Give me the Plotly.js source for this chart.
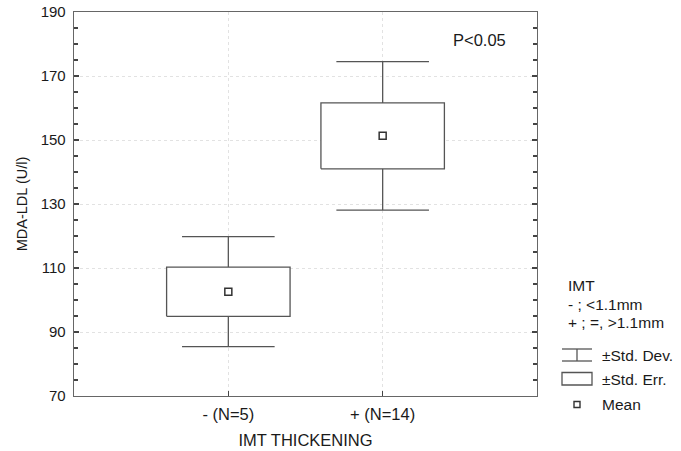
<!DOCTYPE html>
<html>
<head>
<meta charset="utf-8">
<script src="https://cdn.plot.ly/plotly-3.0.1.min.js"></script>
<style>html,body{margin:0;padding:0;background:#fff;}#chart{width:681px;height:451px;}</style>
</head>
<body>
<div id="chart"></div>
<script>
// ---- data ----
const categories = ['- (N=5)', '+ (N=14)'];
const means = [102.6, 151.3];
const stdErr = [7.7, 10.3];
const stdDev = [17.2, 23.2];
const yTickStart = 70, yTickStep = 20, yMinorStep = 5;
const legendNote = ['IMT', '- ; <1.1mm', '+ ; =, >1.1mm'];
const legendLabels = ['\u00B1Std. Dev.', '\u00B1Std. Err.', 'Mean'];
const pLabel = 'P<0.05';

// ---- style ----
const FONT = 'Liberation Sans, Arial, sans-serif';
const LINE = '#555';
const TXT = '#1a1a1a';
const BOX_HALF = 0.4, CAP_HALF = 0.3;
const W = 681, H = 451;
const M = {l: 74, r: 144, t: 12, b: 55};
const px = x => (x - M.l) / (W - M.l - M.r);
const py = y => (H - M.b - y) / (H - M.t - M.b);

const xs = categories.map((c, i) => i);

const wx = [], wy = [];
xs.forEach((x, i) => {
  const m = means[i], e = stdErr[i], s = stdDev[i];
  wx.push(x, x, null, x, x, null, x - CAP_HALF, x + CAP_HALF, null, x - CAP_HALF, x + CAP_HALF, null);
  wy.push(m + e, m + s, null, m - e, m - s, null, m + s, m + s, null, m - s, m - s, null);
});
const traces = [{
  type: 'scatter', mode: 'lines', x: wx, y: wy,
  line: {color: LINE, width: 1.3}, hoverinfo: 'skip', showlegend: false
}];
xs.forEach((x, i) => {
  const m = means[i], e = stdErr[i];
  traces.push({
    type: 'scatter', mode: 'lines',
    x: [x - BOX_HALF, x + BOX_HALF, x + BOX_HALF, x - BOX_HALF, x - BOX_HALF],
    y: [m - e, m - e, m + e, m + e, m - e],
    fill: 'toself', fillcolor: '#fff',
    line: {color: LINE, width: 1.3}, hoverinfo: 'skip', showlegend: false
  });
});
traces.push({
  type: 'scatter', mode: 'markers', x: xs, y: means,
  marker: {symbol: 'square-open', size: 7, color: '#333', line: {width: 1.5}},
  showlegend: false
});

const shapes = [
  {type: 'line', xref: 'paper', yref: 'paper', x0: px(562), x1: px(592), y0: py(349), y1: py(349), line: {color: LINE, width: 1.3}},
  {type: 'line', xref: 'paper', yref: 'paper', x0: px(562), x1: px(592), y0: py(361), y1: py(361), line: {color: LINE, width: 1.3}},
  {type: 'line', xref: 'paper', yref: 'paper', x0: px(577), x1: px(577), y0: py(349), y1: py(361), line: {color: LINE, width: 1.3}},
  {type: 'rect', xref: 'paper', yref: 'paper', x0: px(562), x1: px(592), y0: py(372.5), y1: py(385), line: {color: LINE, width: 1.3}},
  {type: 'rect', xref: 'paper', yref: 'paper', x0: px(574), x1: px(580), y0: py(401.5), y1: py(407.5), line: {color: '#333', width: 1.4}}
];
const annotations = [
  {text: pLabel, xref: 'paper', yref: 'paper', x: px(479), y: py(40), showarrow: false, xanchor: 'center', yanchor: 'middle', font: {family: FONT, size: 16.5, color: TXT}}
];
const noteY = [285, 304, 322];
legendNote.forEach((t, i) => annotations.push({
  text: t, xref: 'paper', yref: 'paper', x: px(566), y: py(noteY[i]), showarrow: false,
  xanchor: 'left', yanchor: 'middle', font: {family: FONT, size: 15.5, color: TXT}
}));
const labY = [355, 379, 404];
legendLabels.forEach((t, i) => annotations.push({
  text: t, xref: 'paper', yref: 'paper', x: px(600), y: py(labY[i]), showarrow: false,
  xanchor: 'left', yanchor: 'middle', font: {family: FONT, size: 15.5, color: TXT}
}));

const layout = {
  width: W, height: H, margin: M,
  paper_bgcolor: '#fff', plot_bgcolor: '#fff',
  font: {family: FONT, color: TXT},
  showlegend: false,
  xaxis: {
    range: [-1, 2], tickmode: 'array', tickvals: xs, ticktext: categories,
    showline: true, linecolor: '#666', linewidth: 1.3, mirror: true,
    ticks: 'inside', ticklen: 5, tickcolor: '#444', tickwidth: 1.2,
    showgrid: true, gridcolor: '#e2e2e2', griddash: 'dot', gridwidth: 1,
    zeroline: false, tickfont: {family: FONT, size: 16.5, color: TXT},
    ticklabelstandoff: 3,
    title: {text: 'IMT THICKENING', font: {family: FONT, size: 16.5, color: TXT}, standoff: 12}
  },
  yaxis: {
    range: [70, 190], tickmode: 'linear', tick0: yTickStart, dtick: yTickStep,
    showline: true, linecolor: '#666', linewidth: 1.3, mirror: 'ticks',
    ticks: 'inside', ticklen: 5, tickcolor: '#444', tickwidth: 1.2,
    minor: {tick0: yTickStart, dtick: yMinorStep, ticks: 'inside', ticklen: 4, tickcolor: '#444', tickwidth: 1.2, showgrid: false},
    showgrid: true, gridcolor: '#e2e2e2', griddash: 'dot', gridwidth: 1,
    zeroline: false, tickfont: {family: FONT, size: 15, color: TXT},
    ticklabelstandoff: 4,
    title: {text: 'MDA-LDL (U/l)', font: {family: FONT, size: 14.5, color: TXT}, standoff: 9}
  },
  shapes: shapes, annotations: annotations
};
Plotly.newPlot('chart', traces, layout, {displayModeBar: false, staticPlot: true});
</script>
</body>
</html>
